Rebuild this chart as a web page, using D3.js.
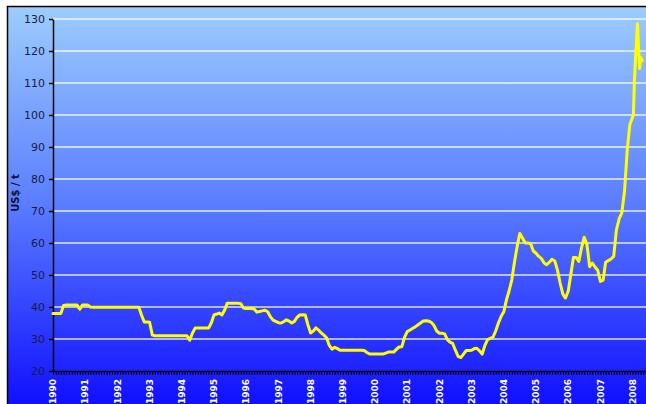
<!DOCTYPE html>
<html>
<head>
<meta charset="utf-8">
<script src="https://cdn.jsdelivr.net/npm/d3@7"></script>
<style>
  body { margin: 0; background: #fff; }
  svg { display: block; }
</style>
</head>
<body>
<svg id="chart" width="646" height="404"></svg>
<script>
// monthly prices, Jan 1990 .. Dec 2007 (US$ / t)
var startMonth = '1990-01';
var monthlyValues = [
  38, 38, 38, 38, 40.5, 40.6, 40.6, 40.6, 40.6, 40.6, 39.3, 40.6,
  40.6, 40.6, 40, 39.9, 39.9, 39.9, 39.9, 39.9, 39.9, 39.9, 39.9, 39.9,
  39.9, 39.9, 39.9, 39.9, 39.9, 39.9, 39.9, 39.9, 39.9, 37.5, 35.3, 35.3,
  35.2, 31.2, 31, 31, 31, 31, 31, 31, 31, 31, 31, 31,
  31, 31, 31, 29.6, 31.8, 33.4, 33.4, 33.4, 33.4, 33.4, 33.4, 35,
  37.5, 37.8, 38.1, 37.5, 39, 41.2, 41.2, 41.2, 41.2, 41.2, 41, 39.7,
  39.5, 39.5, 39.5, 39.4, 38.4, 38.6, 38.8, 39, 38.5, 37, 35.9, 35.5,
  35.1, 35, 35.4, 36, 35.6, 35, 35.5, 36.8, 37.5, 37.6, 37.5, 34.5,
  31.9, 32.5, 33.5, 32.8, 31.9, 31.2, 30.4, 28, 26.8, 27.4, 27, 26.5,
  26.5, 26.5, 26.5, 26.5, 26.5, 26.5, 26.5, 26.5, 26.4, 25.8, 25.3, 25.3,
  25.3, 25.3, 25.3, 25.3, 25.6, 25.9, 25.9, 25.9, 26.8, 27.5, 27.6, 30.5,
  32.3, 32.8, 33.3, 33.8, 34.4, 35, 35.6, 35.7, 35.6, 35.2, 34.2, 32.5,
  31.8, 31.8, 31.6, 29.8, 29, 28.6, 26.5, 24.6, 24.2, 25.3, 26.4, 26.4,
  26.5, 27, 27.1, 26.3, 25.3, 28, 29.8, 30.2, 30.6, 32.5, 35, 37,
  38.5, 42.3, 45, 48.5, 54, 59, 63, 61.5, 60, 60, 59.8, 57.5,
  56.8, 55.8, 55.2, 53.8, 53.2, 54, 54.9, 54.4, 51.5, 47.5, 44, 42.8,
  45, 50.5, 55.5, 55.5, 54.2, 58.5, 61.8, 59.5, 52.6, 53.7, 52.5, 51.5,
  48, 48.4, 54, 54.5, 55, 55.8, 64, 67.5, 69.5, 76, 89, 97
];
// 2008 readings come closer together
var tailDates = ['2008-01-10', '2008-01-22', '2008-02-12', '2008-02-25', '2008-03-20', '2008-04-03', '2008-04-20'];
var tailValues = [100, 111, 122, 128.5, 114.5, 118, 117];

var yearLabels = ['1990', '1991', '1992', '1993', '1994', '1995', '1996', '1997', '1998', '1999',
                  '2000', '2001', '2002', '2003', '2004', '2005', '2006', '2007', '2008'];
var yTicks = [20, 30, 40, 50, 60, 70, 80, 90, 100, 110, 120, 130];
var yTitle = 'US$ / t';

var parseMonth = d3.timeParse('%Y-%m');
var parseDay = d3.timeParse('%Y-%m-%d');
var parseYear = d3.timeParse('%Y');

var data = monthlyValues.map(function(v, i) {
  return {date: d3.timeMonth.offset(parseMonth(startMonth), i), value: v};
}).concat(tailValues.map(function(v, i) {
  return {date: parseDay(tailDates[i]), value: v};
}));

var svg = d3.select('#chart');
var W = 646, H = 404;

var defs = svg.append('defs');
var grad = defs.append('linearGradient')
  .attr('id', 'bg').attr('x1', 0).attr('y1', 0).attr('x2', 0).attr('y2', 1);
grad.append('stop').attr('offset', '0%').attr('stop-color', '#9dcdfd');
grad.append('stop').attr('offset', '50%').attr('stop-color', '#5a7cff');
grad.append('stop').attr('offset', '100%').attr('stop-color', '#1010ff');

svg.append('rect')
  .attr('x', 7).attr('y', 6).attr('width', W - 7).attr('height', H - 6)
  .attr('fill', 'url(#bg)');
svg.append('path')
  .attr('d', 'M7.5,' + H + 'V6.5H' + W)
  .attr('fill', 'none').attr('stroke', '#000').attr('stroke-width', 1.5);

var x = d3.scaleTime()
  .domain([parseMonth('1990-01'), parseMonth('2008-06')])
  .range([53, 646]);
var y = d3.scaleLinear().domain([20, 130]).range([371, 19]);

// grid lines
svg.append('g')
  .selectAll('line')
  .data(yTicks.slice(1))
  .enter().append('line')
  .attr('x1', 53).attr('x2', W)
  .attr('y1', function(d) { return y(d); })
  .attr('y2', function(d) { return y(d); })
  .attr('stroke', '#ffffff').attr('stroke-opacity', 0.85).attr('stroke-width', 1.5);

// y axis
var yAxis = svg.append('g')
  .attr('transform', 'translate(53,0)')
  .call(d3.axisLeft(y).tickValues(yTicks).tickSize(4).tickSizeOuter(0).tickPadding(4));
yAxis.select('.domain').attr('stroke', '#000').attr('stroke-width', 1.5);
yAxis.selectAll('.tick line').attr('stroke', '#000').attr('stroke-width', 1.5);
yAxis.selectAll('.tick text')
  .attr('fill', '#1c1c3c')
  .style('font-family', 'DejaVu Sans, sans-serif')
  .style('font-size', '11px');

// x axis: monthly ticks
var xAxis = svg.append('g')
  .attr('transform', 'translate(0,371)')
  .call(d3.axisBottom(x).ticks(d3.timeMonth.every(1)).tickSize(4).tickSizeOuter(0).tickFormat(''));
xAxis.select('.domain').attr('stroke', '#000').attr('stroke-width', 1.5);
xAxis.selectAll('.tick line').attr('stroke', '#000').attr('stroke-width', 1);

// year labels
svg.append('g')
  .selectAll('text')
  .data(yearLabels)
  .enter().append('text')
  .attr('transform', function(d) { return 'translate(' + x(parseYear(d)) + ',379) rotate(-90)'; })
  .attr('text-anchor', 'end')
  .attr('dy', '0.35em')
  .attr('fill', '#ffffff')
  .style('font-family', 'DejaVu Sans, sans-serif')
  .style('font-size', '9px')
  .style('font-weight', 'bold')
  .text(function(d) { return d; });

// y title
svg.append('text')
  .attr('transform', 'translate(15,193) rotate(-90)')
  .attr('text-anchor', 'middle')
  .attr('dy', '0.35em')
  .attr('fill', '#111133')
  .style('font-family', 'DejaVu Sans, sans-serif')
  .style('font-size', '10px')
  .style('font-weight', 'bold')
  .text(yTitle);

// price line
var line = d3.line()
  .x(function(d) { return x(d.date); })
  .y(function(d) { return y(d.value); });

svg.append('path')
  .datum(data)
  .attr('d', line)
  .attr('fill', 'none')
  .attr('stroke', '#ffff00')
  .attr('stroke-width', 3)
  .attr('stroke-linejoin', 'round')
  .attr('stroke-linecap', 'round');
</script>
</body>
</html>
